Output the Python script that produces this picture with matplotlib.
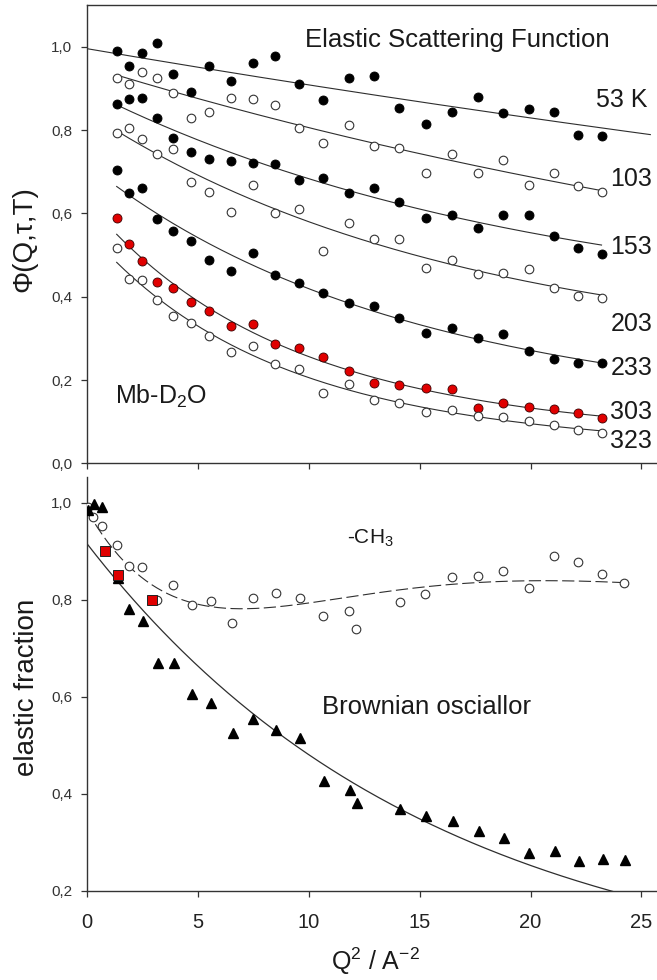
import numpy as np
import matplotlib
matplotlib.use("Agg")
import matplotlib.pyplot as plt

plt.rcParams['font.family'] = ['Liberation Sans', 'DejaVu Sans']
plt.rcParams['mathtext.default'] = 'regular'

# ---- upper panel: elastic scattering function vs Q^2, Mb-D2O ----
q_top = [1.35, 1.91, 2.51, 3.18, 3.91, 4.70, 5.49, 6.51, 7.49, 8.50, 9.58, 10.65,
         11.80, 12.93, 14.09, 15.27, 16.46, 17.62, 18.76, 19.92, 21.05, 22.13, 23.20]

phi_53 = [0.989, 0.953, 0.984, 1.008, 0.934, 0.892, 0.954, 0.918, 0.960, 0.978, 0.910, 0.872,
          0.924, 0.929, 0.852, 0.814, 0.844, 0.880, 0.842, 0.850, 0.844, 0.788, 0.785]
phi_103 = [0.926, 0.910, 0.938, 0.924, 0.889, 0.828, 0.844, 0.876, 0.874, 0.860, 0.806, 0.770,
           0.812, 0.761, 0.756, 0.697, 0.742, 0.696, 0.728, 0.668, 0.696, 0.665, 0.652]
phi_153 = [0.862, 0.874, 0.878, 0.828, 0.780, 0.748, 0.730, 0.725, 0.722, 0.718, 0.680, 0.686,
           0.648, 0.660, 0.628, 0.588, 0.596, 0.565, 0.596, 0.596, 0.545, 0.516, 0.502]
phi_203 = [0.792, 0.804, 0.778, 0.742, 0.754, 0.676, 0.652, 0.604, 0.668, 0.600, 0.610, 0.510,
           0.577, 0.538, 0.538, 0.468, 0.488, 0.454, 0.456, 0.466, 0.420, 0.401, 0.396]
phi_233 = [0.704, 0.648, 0.660, 0.586, 0.557, 0.534, 0.488, 0.462, 0.504, 0.452, 0.432, 0.408,
           0.386, 0.378, 0.348, 0.312, 0.326, 0.301, 0.310, 0.270, 0.250, 0.242, 0.241]
phi_303 = [0.590, 0.526, 0.486, 0.436, 0.422, 0.388, 0.365, 0.330, 0.334, 0.286, 0.276, 0.256,
           0.222, 0.194, 0.188, 0.180, 0.178, 0.134, 0.144, 0.136, 0.130, 0.120, 0.110]
phi_323 = [0.517, 0.442, 0.440, 0.392, 0.354, 0.336, 0.305, 0.268, 0.282, 0.238, 0.226, 0.168,
           0.190, 0.152, 0.145, 0.124, 0.128, 0.114, 0.112, 0.102, 0.092, 0.080, 0.072]

temp_labels = ['53 K', '103', '153', '203', '233', '303', '323']
temp_label_y = [0.855, 0.665, 0.502, 0.318, 0.213, 0.106, 0.038]

# ---- lower panel: elastic fraction ----
q_tri = [0.07, 0.33, 0.70, 1.43, 1.92, 2.55, 3.23, 3.94, 4.76, 5.61, 6.57, 7.51, 8.54, 9.62,
         10.70, 11.85, 12.18, 14.13, 15.30, 16.49, 17.66, 18.82, 19.95, 21.09, 22.19, 23.26, 24.24]
frac_tri = [0.984, 0.997, 0.990, 0.845, 0.780, 0.755, 0.670, 0.669, 0.606, 0.586, 0.525, 0.553,
            0.531, 0.514, 0.427, 0.408, 0.380, 0.368, 0.353, 0.344, 0.324, 0.308, 0.278, 0.282,
            0.262, 0.265, 0.263]

q_ch3 = [0.07, 0.27, 0.68, 1.38, 1.92, 2.51, 3.18, 3.91, 4.74, 5.59, 6.54, 7.51, 8.52, 9.59,
         10.67, 11.80, 12.15, 14.10, 15.26, 16.46, 17.62, 18.76, 19.92, 21.05, 22.13, 23.20, 24.20]
frac_ch3 = [0.990, 0.971, 0.952, 0.913, 0.869, 0.868, 0.800, 0.831, 0.788, 0.797, 0.751, 0.803,
            0.813, 0.803, 0.766, 0.777, 0.740, 0.795, 0.811, 0.847, 0.848, 0.860, 0.823, 0.889,
            0.877, 0.853, 0.834]

q_sq = [0.81, 1.43, 2.93]
frac_sq = [0.901, 0.850, 0.800]

# Brownian oscillator model: amp * exp(-rate * Q^2)
brownian_amp = 0.916
brownian_rate = 0.0645

# methyl 3-site jump model: amp * (1 - p + p * (1 + 2 j0(Q d)) / 3)
ch3_amp = 0.985
ch3_p = 0.255
ch3_d = 1.70

top_ticks = [0.0, 0.2, 0.4, 0.6, 0.8, 1.0]
top_ticklabels = ['0,0', '0,2', '0,4', '0,6', '0,8', '1,0']
bot_ticks = [0.2, 0.4, 0.6, 0.8, 1.0]
bot_ticklabels = ['0,2', '0,4', '0,6', '0,8', '1,0']
x_ticks = [0, 5, 10, 15, 20, 25]

LINE = '#2e2e2e'
RED = '#e00000'
TXT = '#1a1a1a'


def log_fit(q, y, q_from, q_to, deg=2):
    # smooth curve: polynomial fit of ln(phi) in Q^2
    c = np.polyfit(q, np.log(y), deg)
    qq = np.linspace(q_from, q_to, 200)
    return qq, np.exp(np.polyval(c, qq))


def style_axes(ax, top_spine):
    ax.spines['right'].set_visible(False)
    ax.spines['top'].set_visible(top_spine)
    for s in ax.spines.values():
        s.set_color('#333333')
        s.set_linewidth(1.0)
    ax.tick_params(direction='out', length=4.5, width=0.9, color='#333333')
    ax.set_xlim(0, 25.7)
    ax.set_xticks(x_ticks)


fig = plt.figure(figsize=(6.57, 9.8), dpi=100)
ax1 = fig.add_axes([0.132, 0.5272, 0.868, 0.4677])
ax2 = fig.add_axes([0.132, 0.0911, 0.868, 0.4218])

# upper panel
series = [(phi_53, 'filled'), (phi_103, 'open'), (phi_153, 'filled'), (phi_203, 'open'),
          (phi_233, 'filled'), (phi_303, 'red'), (phi_323, 'open')]
for i, (phi, kind) in enumerate(series):
    if i == 0:
        qq, ff = log_fit(q_top, phi, 0.0, 25.4, deg=1)
    else:
        qq, ff = log_fit(q_top, phi, q_top[0], q_top[-1])
    ax1.plot(qq, ff, color=LINE, lw=0.8, zorder=2)
    if kind == 'filled':
        ax1.plot(q_top, phi, 'o', ms=6.5, mfc='black', mec='black', mew=0.6, zorder=3)
    elif kind == 'red':
        ax1.plot(q_top, phi, 'o', ms=6.5, mfc=RED, mec='#3a0000', mew=0.6, zorder=3)
    else:
        ax1.plot(q_top, phi, 'o', ms=6.2, mfc='white', mec='#333333', mew=0.8, zorder=3)

for lab, y in zip(temp_labels, temp_label_y):
    x = 22.93 if lab == '53 K' else 23.6
    ax1.text(x, y, lab, fontsize=18, color=TXT, va='baseline', ha='left')

ax1.text(9.85, 0.999, 'Elastic Scattering Function', fontsize=18.5, color=TXT, va='baseline')
ax1.text(1.28, 0.142, 'Mb-D$_2$O', fontsize=18, color=TXT, va='baseline')

style_axes(ax1, True)
ax1.set_ylim(0, 1.1)
ax1.set_yticks(top_ticks)
ax1.set_yticklabels(top_ticklabels, fontsize=11, color='#333333')
ax1.tick_params(axis='y', pad=6)
ax1.set_xticklabels([])

# lower panel
qq = np.linspace(0, q_ch3[-1], 300)
x = np.sqrt(qq) * ch3_d
j0 = np.sinc(x / np.pi)
ch3_curve = ch3_amp * (1 - ch3_p + ch3_p * (1 + 2 * j0) / 3)
ax2.plot(qq, ch3_curve, color=LINE, lw=0.8, dashes=(11, 4), zorder=2)

qq = np.linspace(0, 25.7, 300)
ax2.plot(qq, brownian_amp * np.exp(-brownian_rate * qq), color=LINE, lw=0.9, zorder=2)

ax2.plot(q_ch3, frac_ch3, 'o', ms=6.2, mfc='white', mec='#333333', mew=0.8, zorder=3)
ax2.plot(q_tri, frac_tri, '^', ms=7, mfc='black', mec='black', zorder=4)
ax2.plot(q_sq, frac_sq, 's', ms=6.6, mfc=RED, mec='#222222', mew=0.7, zorder=5)

ax2.text(11.73, 0.916, '-CH$_3$', fontsize=15, color=TXT, va='baseline')
ax2.text(10.6, 0.564, 'Brownian osciallor', fontsize=18.5, color=TXT, va='baseline')

style_axes(ax2, False)
ax2.set_ylim(0.2, 1.052)
ax2.set_yticks(bot_ticks)
ax2.set_yticklabels(bot_ticklabels, fontsize=11, color='#333333')
ax2.tick_params(axis='y', pad=6)
ax2.tick_params(axis='x', pad=11.5, labelsize=14.5, labelcolor='#222222')

fig.text(24 / 657, 1 - 239 / 980, '\u03a6(Q,\u03c4,T)', rotation=90, fontsize=20,
         color=TXT, ha='center', va='center')
fig.text(27 / 657, 1 - 687 / 980, 'elastic fraction', rotation=90, fontsize=20,
         color=TXT, ha='center', va='center')
fig.text(375 / 657, 1 - 970 / 980, 'Q$^2$ / A$^{-2}$', fontsize=18, color=TXT,
         ha='center', va='baseline')

fig.savefig('out.png', dpi=100)
